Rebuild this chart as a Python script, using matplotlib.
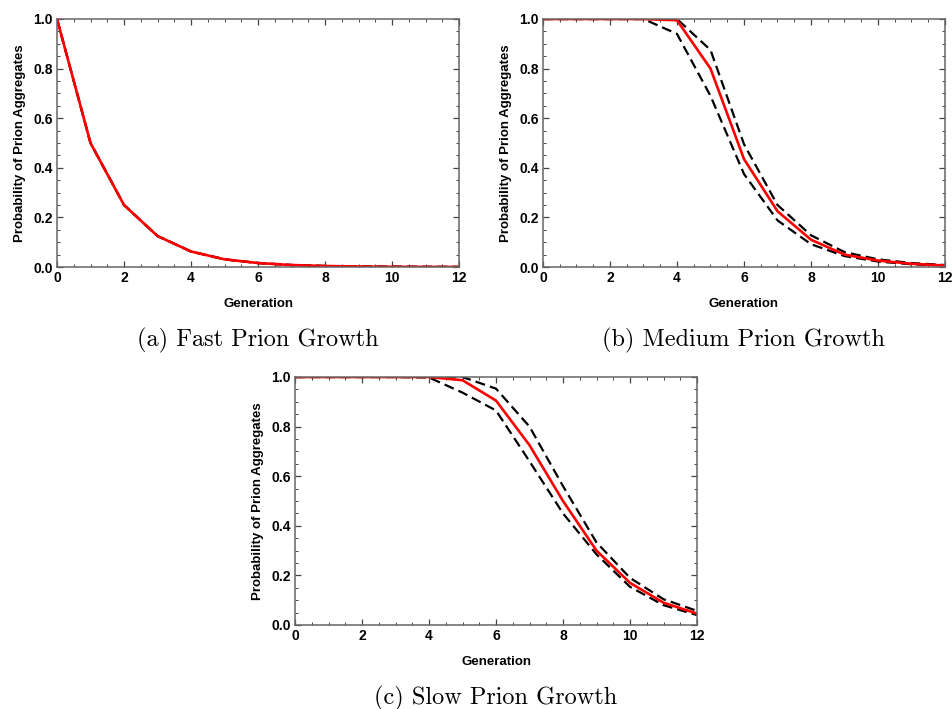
"""Prion aggregate probability over generations: fast, medium and slow growth."""

import matplotlib
matplotlib.use("Agg")
import matplotlib.pyplot as plt
from matplotlib.ticker import MultipleLocator

generations = [0, 1, 2, 3, 4, 5, 6, 7, 8, 9, 10, 11, 12]

# (a) fast growth
fast_mean = [1.0, 0.5, 0.25, 0.125, 0.0625, 0.031, 0.016, 0.008, 0.004, 0.002, 0.001, 0.0005, 0.0002]
fast_upper = [1.0, 0.5, 0.25, 0.125, 0.0625, 0.031, 0.016, 0.008, 0.004, 0.002, 0.001, 0.0005, 0.0002]
fast_lower = [1.0, 0.5, 0.25, 0.125, 0.0625, 0.031, 0.016, 0.008, 0.004, 0.002, 0.001, 0.0005, 0.0002]

# (b) medium growth
medium_mean = [1.0, 1.0, 1.0, 1.0, 0.995, 0.80, 0.435, 0.225, 0.11, 0.05, 0.026, 0.013, 0.006]
medium_upper = [1.0, 1.0, 1.0, 1.0, 1.0, 0.875, 0.495, 0.25, 0.128, 0.06, 0.031, 0.016, 0.008]
medium_lower = [1.0, 1.0, 1.0, 1.0, 0.94, 0.69, 0.375, 0.188, 0.092, 0.044, 0.022, 0.011, 0.005]

# (c) slow growth
slow_mean = [1.0, 1.0, 1.0, 1.0, 1.0, 0.987, 0.905, 0.725, 0.50, 0.30, 0.17, 0.09, 0.046]
slow_upper = [1.0, 1.0, 1.0, 1.0, 1.0, 1.0, 0.953, 0.80, 0.56, 0.333, 0.19, 0.104, 0.057]
slow_lower = [1.0, 1.0, 1.0, 1.0, 0.998, 0.937, 0.865, 0.66, 0.45, 0.285, 0.154, 0.08, 0.04]

captions = ["(a) Fast Prion Growth", "(b) Medium Prion Growth", "(c) Slow Prion Growth"]

W, H = 953, 709
# axes boxes in pixels: left, top, right, bottom
boxes = [(57, 19, 459, 267), (543, 19, 945, 267), (295, 377, 697, 625)]
caption_y = [340, 340, 698]

fig = plt.figure(figsize=(W / 100, H / 100), dpi=100)

panels = [
    (fast_mean, fast_upper, fast_lower),
    (medium_mean, medium_upper, medium_lower),
    (slow_mean, slow_upper, slow_lower),
]

for (mean, upper, lower), (l, t, r, b), cap, cy in zip(panels, boxes, captions, caption_y):
    ax = fig.add_axes([l / W, 1 - b / H, (r - l) / W, (b - t) / H])
    ax.plot(generations, upper, color="black", lw=1.6, ls=(0, (4.5, 2.3)))
    ax.plot(generations, lower, color="black", lw=1.6, ls=(0, (4.5, 2.3)))
    ax.plot(generations, mean, color="#ff0000", lw=1.9)

    ax.set_xlim(0, 12)
    ax.set_ylim(0, 1.0)
    ax.xaxis.set_major_locator(MultipleLocator(2))
    ax.xaxis.set_minor_locator(MultipleLocator(0.5))
    ax.yaxis.set_major_locator(MultipleLocator(0.2))
    ax.yaxis.set_minor_locator(MultipleLocator(0.05))
    ax.xaxis.set_major_formatter(plt.FuncFormatter(lambda v, p: f"{v:.0f}"))
    ax.yaxis.set_major_formatter(plt.FuncFormatter(lambda v, p: f"{v:.1f}"))
    ax.tick_params(which="both", direction="in", top=True, right=True, color="#444444",
                   labelsize=10, pad=3)
    ax.tick_params(which="major", length=4.5, width=0.9)
    ax.tick_params(which="minor", length=2.5, width=0.7)
    for lab in ax.get_xticklabels() + ax.get_yticklabels():
        lab.set_fontweight("bold")
        lab.set_fontfamily("Liberation Sans")
    for sp in ax.spines.values():
        sp.set_color("#666666")
        sp.set_linewidth(1.1)

    ax.set_xlabel("Generation", fontsize=9.5, fontweight="bold", family="Liberation Sans", labelpad=9)
    ax.set_ylabel("Probability of Prion Aggregates", fontsize=9.5, fontweight="bold",
                  family="Liberation Sans", labelpad=5)

    fig.text((l + r) / 2 / W, 1 - cy / H, cap, ha="center", va="center",
             fontsize=17.5, family="cmr10")

fig.savefig("out.png", dpi=100)
plt.close(fig)
